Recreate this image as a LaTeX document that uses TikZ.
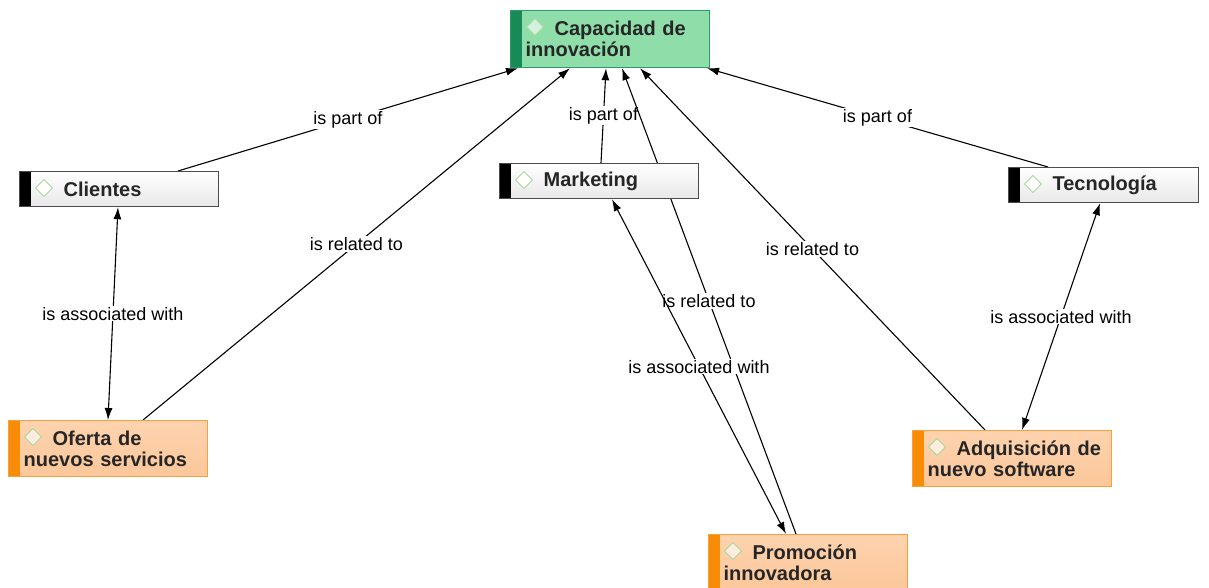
\documentclass[tikz,border=0pt]{standalone}
\usepackage{fontspec}
\setmainfont{Liberation Sans}
\usetikzlibrary{calc}
\usetikzlibrary{arrows.meta}
\usetikzlibrary{backgrounds}
\usepackage{xcolor}
\definecolor{mint}{HTML}{8FDEA9}
\definecolor{mintline}{HTML}{2A9E64}
\definecolor{mintbar}{HTML}{178A57}
\definecolor{peach}{HTML}{FCC79A}
\definecolor{peachtop}{HTML}{FDD3AF}
\definecolor{peachline}{HTML}{F9A03C}
\definecolor{peachbar}{HTML}{F98C06}
\definecolor{gemline}{HTML}{A8D99C}
\tikzset{
  box/.style={rectangle, anchor=north west, line width=1.2pt, minimum width=199pt,
    minimum height=35pt, text width=169pt, inner xsep=15pt, inner ysep=2pt,
    align=left, text=black!85, font=\fontsize{20}{20.5}\selectfont\bfseries},
  bar/.style={path picture={\fill[#1] (path picture bounding box.north west)
    rectangle ([xshift=11pt]path picture bounding box.south west);}},
  graybox/.style={box, draw=black!70, top color=white, bottom color=black!9, bar=black},
  greenbox/.style={box, draw=mintline, fill=mint, bar=mintbar, minimum height=57pt},
  orangebox/.style={box, draw=peachline, top color=peachtop, bottom color=peach,
    bar=peachbar, minimum height=56pt},
  link/.style={-{Latex[length=12pt,width=8pt]}, line width=1.1pt},
  twin/.style={{Latex[length=12pt,width=8pt]}-{Latex[length=12pt,width=8pt]}, line width=1.1pt},
  rel/.style={fill=white, inner sep=1pt, text=black, font=\fontsize{18}{18}\selectfont}
}
\newcommand\lead[1]{\hspace*{29pt}\rlap{#1}}
\newcommand\gem[2]{\filldraw[draw=gemline, fill=#2, line width=1pt]
  ($(#1.north west)+(25,17)$) +(-8.5,0) -- +(0,-8.5) -- +(8.5,0) -- +(0,8.5) -- cycle;}
\begin{document}
\begin{tikzpicture}[x=1pt,y=-1pt]
\useasboundingbox (0,0) rectangle (1209,588);
\clip (0,0) rectangle (1209,588);
\node[greenbox] (cap) at (510,10) {\lead{Capacidad de}\\innovación};
\node[graybox] (cli) at (19,171) {\lead{Clientes}};
\node[graybox] (mkt) at (499,163) {\lead{Marketing}};
\node[graybox, minimum width=190pt, text width=160pt] (tec) at (1008,167) {\lead{Tecnología}};
\node[orangebox] (ofe) at (8,420) {\lead{Oferta de}\\nuevos servicios};
\node[orangebox] (adq) at (912,430) {\lead{Adquisición de}\\nuevo software};
\node[orangebox] (pro) at (708,534) {\lead{Promoción}\\innovadora};
\gem{cap}{mint!40!white}
\gem{cli}{white}
\gem{mkt}{white}
\gem{tec}{white}
\gem{ofe}{peachtop!40!white}
\gem{adq}{peachtop!40!white}
\gem{pro}{peachtop!40!white}
\begin{scope}[on background layer]
\draw[link] ([xshift=159pt]cli.north west) -- node[rel]{is part of} ([xshift=8pt]cap.south west);
\draw[link] ([xshift=135pt]ofe.north west) -- node[rel]{is related to} ([xshift=60pt]cap.south west);
\draw[twin] ([xshift=99pt]cli.south west) -- node[rel]{is associated with} ([xshift=100pt]ofe.north west);
\draw[link] ([xshift=102pt]mkt.north west) -- node[rel]{is part of} ([xshift=96pt]cap.south west);
\draw[link] ([xshift=88pt]pro.north west) -- node[rel]{is related to} ([xshift=112pt]cap.south west);
\draw[twin] ([xshift=113pt]mkt.south west) -- node[rel]{is associated with} ([xshift=78pt]pro.north west);
\draw[link] ([xshift=73pt]adq.north west) -- node[rel]{is related to} ([xshift=130pt]cap.south west);
\draw[link] ([xshift=40pt]tec.north west) -- node[rel]{is part of} ([xshift=197pt]cap.south west);
\draw[twin] ([xshift=92pt]tec.south west) -- node[rel]{is associated with} ([xshift=110pt]adq.north west);
\end{scope}
\end{tikzpicture}
\end{document}
